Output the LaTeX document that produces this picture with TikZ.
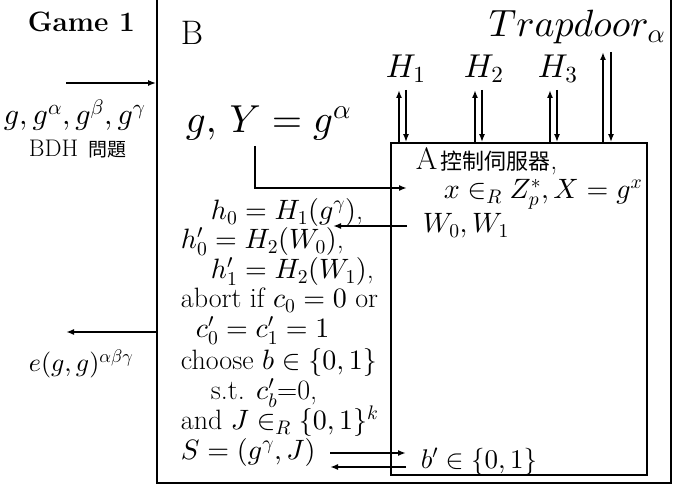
\documentclass[tikz,border=0pt]{standalone}
\usepackage[no-math]{fontspec}
\newfontfamily\cjk{Noto Sans CJK TC}
\usetikzlibrary{arrows.meta}
\DeclareFontShape{OML}{cmm}{m}{it}{<->cmmi10}{}
\DeclareFontShape{OMS}{cmsy}{m}{n}{<->cmsy10}{}
\DeclareFontShape{OT1}{cmr}{m}{n}{<->cmr10}{}
\DeclareFontShape{OMX}{cmex}{m}{n}{<->cmex10}{}
\newcommand{\fs}[1]{\fontsize{#1}{#1}\selectfont}

\begin{document}
\begin{tikzpicture}[x=1pt, y=-1pt, line width=1.8pt,
  msg/.style={-{Latex[length=8pt,width=6pt]}},
  lbl/.style={anchor=base west, inner sep=0pt, font=\fs{28}}]
\useasboundingbox (0,0) rectangle (686,486);
% the two parties
\node [draw, inner sep=0pt, minimum width=514, minimum height=488] (B) at (414,239) {};
\node [draw, inner sep=0pt, minimum width=256, minimum height=332] (A) at (519,309) {};

\coordinate (in) at (66,83);
\coordinate (out) at (66,332);
\coordinate (yturn) at (255,146);
\coordinate (yend) at (407,188);
\coordinate (wstart) at (407,226);
\coordinate (wend) at (333,226);
\coordinate (sstart) at (330,453);
\coordinate (send) at (406,453);
\coordinate (bstart) at (406,467);
\coordinate (bback) at (330,467);
\coordinate (h1u) at (399,90);
\coordinate (h1d) at (406,90);
\coordinate (h2u) at (475,90);
\coordinate (h2d) at (482,90);
\coordinate (h3u) at (550,90);
\coordinate (h3d) at (557,90);
\coordinate (tu) at (603,52);
\coordinate (td) at (611,52);

\draw [msg] (in) -- (in -| B.west);
\draw [msg] (out -| B.west) -- (out);
\draw [msg] (yturn) |- (yend);
\draw [msg] (wstart) -- (wend);
\draw [msg] (sstart) -- (send);
\draw [msg] (bstart) -- (bback);
% oracle queries
\draw [msg] (h1u |- A.north) -- (h1u);
\draw [msg] (h1d) -- (h1d |- A.north);
\draw [msg] (h2u |- A.north) -- (h2u);
\draw [msg] (h2d) -- (h2d |- A.north);
\draw [msg] (h3u |- A.north) -- (h3u);
\draw [msg] (h3d) -- (h3d |- A.north);
\draw [msg] (tu |- A.north) -- (tu);
\draw [msg] (td) -- (td |- A.north);

\node [lbl, font=\fs{28}\bfseries] (game) at (27,32) {Game 1};
\node [lbl, font=\fs{34}] (bname) at (180,45) {B};
\node [lbl, font=\fs{30}] (given) at (3,125) {$g, g^{\alpha}, g^{\beta}, g^{\gamma}$};
\node [lbl, font=\fs{24}] (bdh) at (28,157) {BDH\hspace{10pt}{\fs{19}\cjk 問題}};
\node [lbl, font=\fs{26}] (ans) at (28,372) {$e(g,g)^{\alpha\beta\gamma}$};
\node [lbl, font=\fs{39}] (gy) at (185,133) {$g,\, Y = g^{\alpha}$};
\node [lbl, font=\fs{33}] (h1) at (385,78) {$H_1$};
\node [lbl, font=\fs{33}] (h2) at (463,78) {$H_2$};
\node [lbl, font=\fs{33}] (h3) at (537,78) {$H_3$};
\node [lbl, font=\fs{38}] (trap) at (488,37) {$Trapdoor_{\alpha}$};

\node [lbl] (aname) at (415,170) {{\fs{31}A}\hspace{3pt}{\fs{22}\cjk 控制伺服器},};
\node [lbl] (xsel) at (443,199) {$x \in_R Z_p^*, X = g^x$};
\node [lbl] (ws) at (422,233) {$W_0, W_1$};
\node [lbl, font=\fs{27}] (bp) at (420,468) {$b' \in \{0,1\}$};

\node [lbl] (l1) at (210,220) {$h_0 = H_1(g^{\gamma})$,};
\node [lbl] (l2) at (180,249) {$h'_0 = H_2(W_0)$,};
\node [lbl] (l3) at (210,279) {$h'_1 = H_2(W_1)$,};
\node [lbl] (l4) at (180,308) {abort if $c_0 = 0$ or};
\node [lbl] (l5) at (195,338) {$c'_0 = c'_1 = 1$};
\node [lbl] (l6) at (180,370) {choose $b \in \{0,1\}$};
\node [lbl] (l7) at (210,400) {s.t. $c'_b$=0,};
\node [lbl] (l8) at (180,430) {and $J \in_R \{0,1\}^k$};
\node [lbl] (l9) at (180,460) {$S = (g^{\gamma}, J)$};
\end{tikzpicture}
\end{document}
